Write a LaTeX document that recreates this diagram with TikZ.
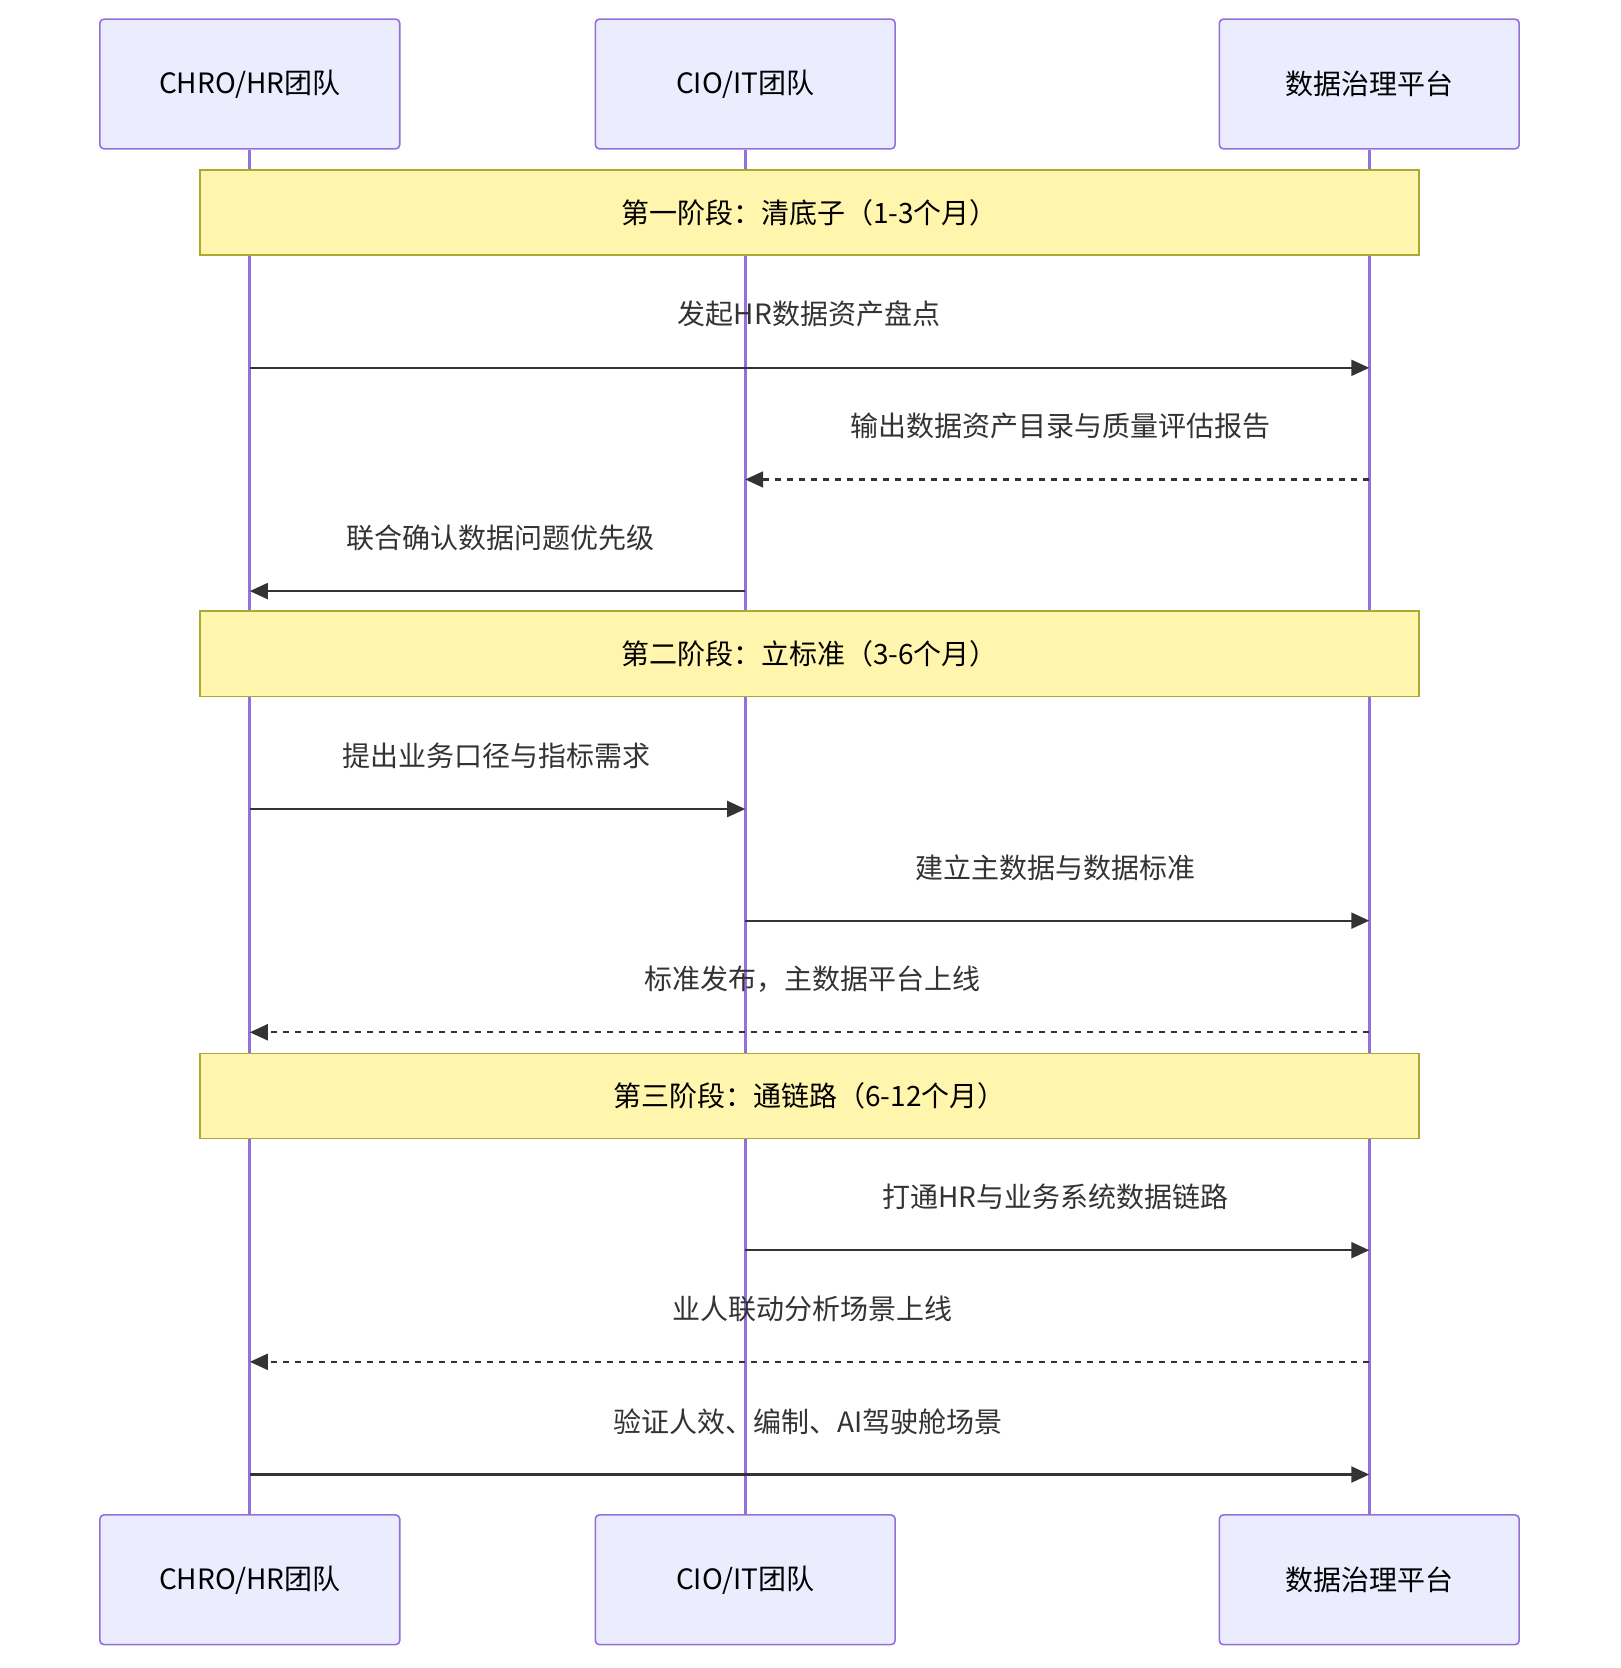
\documentclass[tikz,border=0pt]{standalone}
\usepackage{fontspec}
\setmainfont{Noto Sans CJK SC}
\usetikzlibrary{arrows.meta}
\definecolor{boxf}{HTML}{ECECFF}
\definecolor{boxd}{HTML}{9370DB}
\definecolor{notef}{HTML}{FFF5AD}
\definecolor{noted}{HTML}{AAAA33}
\definecolor{txt}{HTML}{333333}
\begin{document}
\begin{tikzpicture}[x=0.5315pt,y=-0.5315pt,
  actor/.style={draw=boxd,fill=boxf,rounded corners=2pt,line width=0.8pt,minimum width=282*0.5315pt,minimum height=122*0.5315pt,font=\fontsize{14}{16}\selectfont,text=black},
  note/.style={draw=noted,fill=notef,line width=0.8pt,minimum width=1147*0.5315pt,minimum height=80*0.5315pt,font=\fontsize{14}{16}\selectfont,text=black},
  life/.style={draw=boxd,line width=1.4pt},
  msg/.style={draw=txt,line width=1.1pt,-{Triangle[length=9pt,width=8pt]}},
  rep/.style={msg,dash pattern=on 3pt off 3pt},
  lab/.style={font=\fontsize{14}{16}\selectfont,text=txt}]
\useasboundingbox (0,0) rectangle (1524,1569);
\node[actor] (a1) at (235,79) {CHRO/HR团队};
\node[actor] (a2) at (701,79) {CIO/IT团队};
\node[actor] (a3) at (1288,79) {数据治理平台};
\node[actor] (b1) at (235,1486) {CHRO/HR团队};
\node[actor] (b2) at (701,1486) {CIO/IT团队};
\node[actor] (b3) at (1288,1486) {数据治理平台};
\draw[life] (a1) -- (b1);
\draw[life] (a2) -- (b2);
\draw[life] (a3) -- (b3);
\node[note] (n1) at (761.5,200) {第一阶段：清底子（1-3个月）};
\node[note] (n2) at (761.5,615) {第二阶段：立标准（3-6个月）};
\node[note] (n3) at (761.5,1031) {第三阶段：通链路（6-12个月）};
\foreach \y/\n in {346/1,451/2,556/3,761/4,866/5,971/6,1176/7,1281/8,1387/9}{
  \coordinate (p1\n) at (235,\y);
  \coordinate (p2\n) at (701,\y);
  \coordinate (p3\n) at (1288,\y);}
\draw[msg] (p11) -- (p31);
\node[lab] (l1) at (761,295) {发起HR数据资产盘点};
\draw[rep] (p32) -- (p22);
\node[lab] (l2) at (998,401) {输出数据资产目录与质量评估报告};
\draw[msg] (p23) -- (p13);
\node[lab] (l3) at (471,506) {联合确认数据问题优先级};
\draw[msg] (p14) -- (p24);
\node[lab] (l4) at (467,711) {提出业务口径与指标需求};
\draw[msg] (p25) -- (p35);
\node[lab] (l5) at (993,816) {建立主数据与数据标准};
\draw[rep] (p36) -- (p16);
\node[lab] (l6) at (764,921) {标准发布，主数据平台上线};
\draw[msg] (p27) -- (p37);
\node[lab] (l7) at (993,1126) {打通HR与业务系统数据链路};
\draw[rep] (p38) -- (p18);
\node[lab] (l8) at (764,1231) {业人联动分析场景上线};
\draw[msg] (p19) -- (p39);
\node[lab] (l9) at (760,1337) {验证人效、编制、AI驾驶舱场景};
\end{tikzpicture}
\end{document}
